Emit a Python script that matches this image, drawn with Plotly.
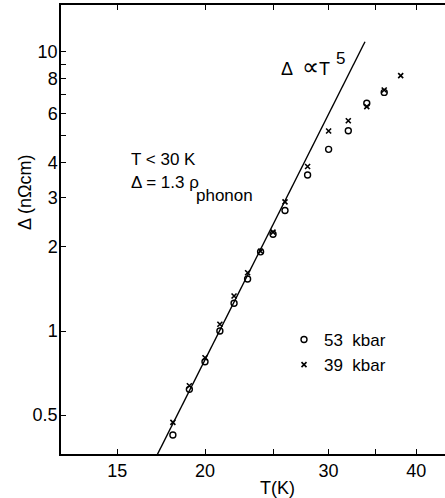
import plotly.graph_objects as go

# ---- data ----
T_53 = [18, 19, 20, 21, 22, 23, 24, 25, 26, 28, 30, 32, 34, 36]
D_53 = [0.424, 0.618, 0.776, 1.00, 1.257, 1.535, 1.92, 2.22, 2.70, 3.62, 4.47, 5.21, 6.54, 7.15]
T_39 = [18, 19, 20, 21, 22, 23, 24, 25, 26, 28, 30, 32, 34, 36, 38]
D_39 = [0.471, 0.637, 0.802, 1.057, 1.335, 1.617, 1.93, 2.26, 2.90, 3.88, 5.20, 5.66, 6.36, 7.29, 8.21]
fit_T = [16.9, 33.8]
fit_D = [0.340, 10.86]

x_tickvals = [15, 20, 25, 30, 35, 40]
x_ticktext = ["15", "20", "", "30", "", "40"]
y_tickvals = [0.5, 1, 2, 3, 4, 5, 6, 7, 8, 9, 10]
y_ticktext = ["0.5", "1", "2", "3", "4", "", "6", "", "8", "", "10"]

W, H = 445, 498
ML, MR, MT, MB = 61, 0, 5, 44
PW, PH = W - ML - MR, H - MT - MB

FONT = "Liberation Sans Narrow, Liberation Sans, Arial, sans-serif"


def px(x):
    return (x - ML) / PW


def py(y):
    return (H - MB - y) / PH


fig = go.Figure()
fig.add_trace(go.Scatter(x=fit_T, y=fit_D, mode="lines",
                         line=dict(color="black", width=1.4),
                         showlegend=False, hoverinfo="skip"))
fig.add_trace(go.Scatter(x=T_53, y=D_53, mode="markers", name="53  kbar",
                         marker=dict(symbol="circle-open", size=6, color="black",
                                     line=dict(width=1.4, color="black"))))
fig.add_trace(go.Scatter(x=T_39, y=D_39, mode="markers", name="39  kbar",
                         marker=dict(symbol="x-thin", size=5, color="black",
                                     line=dict(width=1.6, color="black"))))

axis_common = dict(showline=True, linecolor="black", linewidth=1.5,
                   ticks="inside", ticklen=5, tickwidth=1.2, tickcolor="black",
                   showgrid=False, zeroline=False,
                   tickfont=dict(family=FONT, size=18, color="black"))

fig.update_xaxes(type="log", range=[1.0959, 1.6429], mirror="ticks",
                 tickmode="array", tickvals=x_tickvals, ticktext=x_ticktext,
                 **axis_common)
fig.update_yaxes(type="log", range=[-0.4404, 1.1672], mirror=False,
                 tickmode="array", tickvals=y_tickvals, ticktext=y_ticktext,
                 ticklabelstandoff=-2, **axis_common)

ann_font = dict(family=FONT, size=17, color="black")
annotations = [
    dict(text="Δ (nΩcm)", x=px(25), y=py(193), textangle=-90,
         xanchor="center", yanchor="middle", font=dict(family=FONT, size=18, color="black")),
    dict(text="T(K)", x=px(277), y=py(488), xanchor="center", yanchor="middle",
         font=dict(family=FONT, size=18, color="black")),
    dict(text="T < 30 K", x=px(129), y=py(159), xanchor="left", yanchor="middle", font=ann_font),
    dict(text="Δ = 1.3 ρ", x=px(129), y=py(182), xanchor="left", yanchor="middle", font=ann_font),
    dict(text="phonon", x=px(194), y=py(195), xanchor="left", yanchor="middle", font=ann_font),
    dict(text="Δ  <span style='font-size:24px'>∝</span>T", x=px(279), y=py(66),
         xanchor="left", yanchor="middle",
         font=dict(family=FONT, size=18, color="black")),
    dict(text="5", x=px(334), y=py(58), xanchor="left", yanchor="middle", font=ann_font),
]
for a in annotations:
    a.update(xref="paper", yref="paper", showarrow=False)

fig.update_layout(
    width=W, height=H,
    margin=dict(l=ML, r=MR, t=MT, b=MB),
    paper_bgcolor="white", plot_bgcolor="white",
    annotations=annotations,
    legend=dict(x=px(284), y=py(322), xanchor="left", yanchor="top",
                font=dict(family=FONT, size=17, color="black"),
                bgcolor="rgba(0,0,0,0)", itemwidth=30, tracegroupgap=0),
    font=dict(family=FONT, color="black"),
)

fig.write_html("out.html", config={"displayModeBar": False},
               post_script="document.body.style.margin='0';document.body.style.padding='0';")
